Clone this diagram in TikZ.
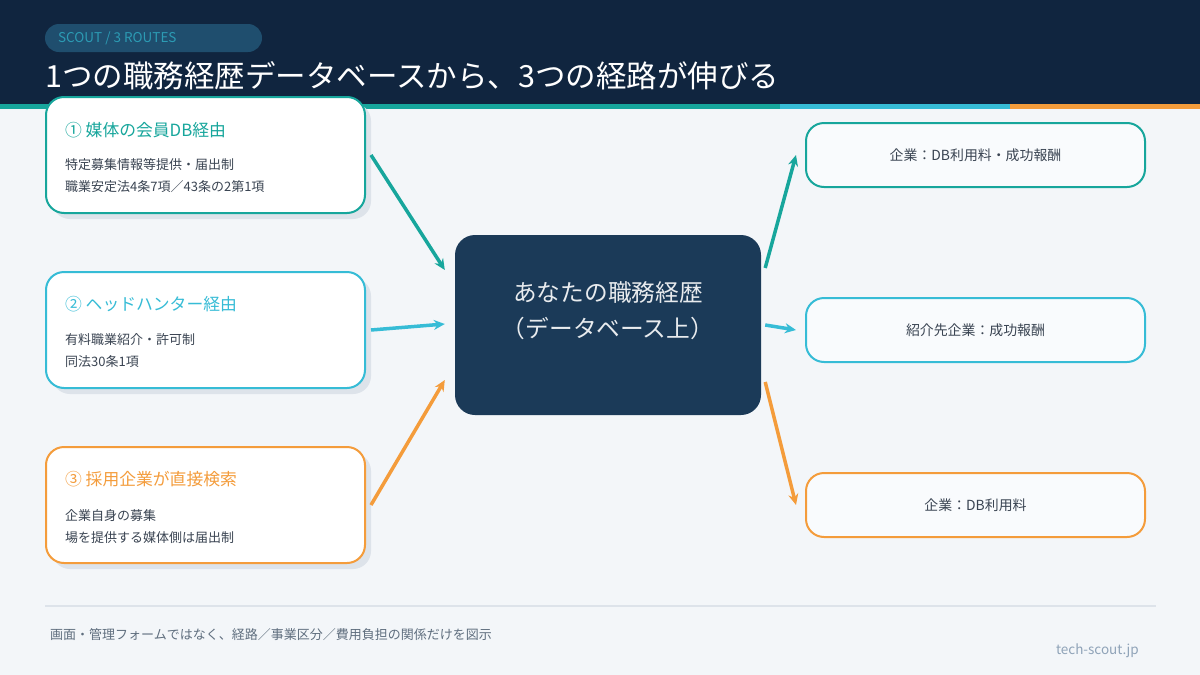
\documentclass[tikz,border=0pt]{standalone}
\usepackage{fontspec}
\setmainfont{Noto Sans CJK JP}
\usetikzlibrary{arrows.meta,calc}
\definecolor{bg}{HTML}{F3F6F9}
\definecolor{hdr}{HTML}{10253F}
\definecolor{pill}{HTML}{1F4E6E}
\definecolor{pilltxt}{HTML}{2C9BB4}
\definecolor{cteal}{HTML}{17A69C}
\definecolor{ccyan}{HTML}{36BCD6}
\definecolor{corange}{HTML}{F49C3B}
\definecolor{center}{HTML}{1B3A58}
\definecolor{shadowc}{HTML}{DDE3EA}
\definecolor{bodytxt}{HTML}{3A4452}
\definecolor{foottxt}{HTML}{5F6E7E}
\definecolor{sitetxt}{HTML}{8FA3B8}
\definecolor{rfill}{HTML}{F9FBFD}
\tikzset{
  leftbox/.style={draw=#1, line width=2pt, fill=white, rounded corners=18pt,
    minimum width=319pt, minimum height=116pt, inner sep=0pt},
  lshadow/.style={fill=shadowc, rounded corners=18pt,
    minimum width=319pt, minimum height=116pt, inner sep=0pt, draw=none},
  rightbox/.style={draw=#1, line width=2pt, fill=rfill, rounded corners=18pt,
    minimum width=339pt, minimum height=64pt, inner sep=0pt,
    font=\fontsize{13.9}{16}\selectfont, text=bodytxt},
  btitle/.style={anchor=west, inner sep=0pt, font=\fontsize{16.8}{19}\selectfont, text=#1},
  bline/.style={anchor=west, inner sep=0pt, font=\fontsize{13}{15}\selectfont, text=bodytxt},
  arr/.style={draw=#1, line width=3.5pt, -{Stealth[length=11pt,width=10pt]}}
}
\begin{document}
\begin{tikzpicture}[x=1pt,y=-1pt]
\useasboundingbox (0,0) rectangle (1200,675);
\fill[bg] (0,0) rectangle (1200,675);
% header
\fill[hdr] (0,0) rectangle (1200,104);
\fill[cteal] (0,104) rectangle (780,109);
\fill[ccyan] (780,104) rectangle (1010,109);
\fill[corange] (1010,104) rectangle (1200,109);
\node[fill=pill, rounded corners=14pt, minimum width=217pt, minimum height=28pt, inner sep=0pt] (pillbox) at (153.5,38) {};
\node[anchor=west, inner sep=0pt, text=pilltxt, font=\fontsize{13.5}{16}\selectfont] (pilltext) at (58,38) {SCOUT / 3 ROUTES};
\node[anchor=west, inner sep=0pt, text=white, font=\fontsize{30.5}{36}\selectfont] (title) at (45,76) {1つの職務経歴データベースから、3つの経路が伸びる};
% left boxes
\node[lshadow] (s1) at (211.5,161) {};
\node[leftbox=cteal] (b1) at (205.5,155) {};
\node[btitle=cteal] (t1) at (65,130) {① 媒体の会員DB経由};
\node[bline] (l1a) at (65,165) {特定募集情報等提供・届出制};
\node[bline] (l1b) at (65,187) {職業安定法4条7項／43条の2第1項};

\node[lshadow] (s2) at (211.5,336) {};
\node[leftbox=ccyan] (b2) at (205.5,330) {};
\node[btitle=ccyan] (t2) at (65,304) {② ヘッドハンター経由};
\node[bline] (l2a) at (65,340) {有料職業紹介・許可制};
\node[bline] (l2b) at (65,362) {同法30条1項};

\node[lshadow] (s3) at (211.5,511) {};
\node[leftbox=corange] (b3) at (205.5,505) {};
\node[btitle=corange] (t3) at (65,479) {③ 採用企業が直接検索};
\node[bline] (l3a) at (65,516) {企業自身の募集};
\node[bline] (l3b) at (65,538) {場を提供する媒体側は届出制};
% center
\node[fill=center, rounded corners=20pt, minimum width=306pt, minimum height=180pt, inner sep=0pt] (c) at (608,325) {};
\node[inner sep=0pt, text=white!90!center, font=\fontsize{23.7}{27}\selectfont] (ct1) at (608,293) {あなたの職務経歴};
\node[inner sep=0pt, text=white!90!center, font=\fontsize{23.7}{27}\selectfont] (ct2) at (608,328) {（データベース上）};
% right boxes
\node[rightbox=cteal] (r1) at (975.5,155) {企業：DB利用料・成功報酬};
\node[rightbox=ccyan] (r2) at (975.5,330) {紹介先企業：成功報酬};
\node[rightbox=corange] (r3) at (975.5,505) {企業：DB利用料};
% arrows
\draw[arr=cteal] ($(b1.east)+(5,0)$) -- ($(c.west)+(-10,-55)$);
\draw[arr=ccyan] ($(b2.east)+(5,0)$) -- ($(c.west)+(-10,-1)$);
\draw[arr=corange] ($(b3.east)+(5,0)$) -- ($(c.west)+(-10,55)$);
\draw[arr=cteal] ($(c.east)+(4,-57)$) -- ($(r1.west)+(-9,0)$);
\draw[arr=ccyan] ($(c.east)+(4,0)$) -- ($(r2.west)+(-9,0)$);
\draw[arr=corange] ($(c.east)+(4,57)$) -- ($(r3.west)+(-9,0)$);
% footer
\draw[shadowc, line width=2pt] (45,606) -- (1156,606);
\node[anchor=west, inner sep=0pt, text=foottxt, font=\fontsize{13}{15}\selectfont] (foot) at (50,635) {画面・管理フォームではなく、経路／事業区分／費用負担の関係だけを図示};
\node[anchor=east, inner sep=0pt, text=sitetxt, font=\fontsize{13.5}{16}\selectfont] (site) at (1139,651) {tech-scout.jp};
\end{tikzpicture}
\end{document}
